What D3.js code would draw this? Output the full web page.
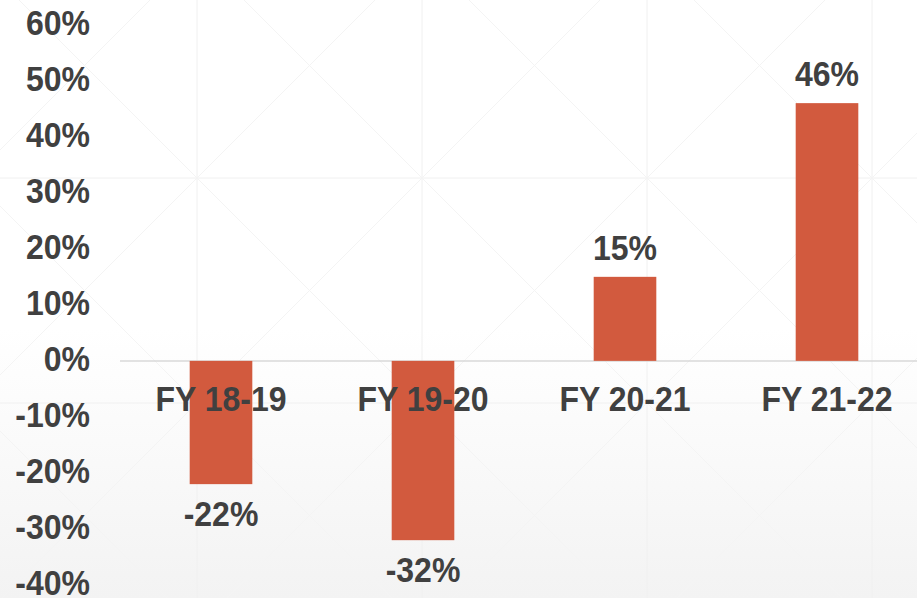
<!DOCTYPE html>
<html>
<head>
<meta charset="utf-8">
<script src="https://cdn.jsdelivr.net/npm/d3@7"></script>
<style>
  body { margin: 0; background: #fff; }
  svg { display: block; }
</style>
</head>
<body>
<script>
// chart data
const years = ["FY 18-19", "FY 19-20", "FY 20-21", "FY 21-22"];
const growth = [-22, -32, 15, 46];
const yTicks = [60, 50, 40, 30, 20, 10, 0, -10, -20, -30, -40];

const width = 917;
const height = 598;

const svg = d3.select("body").append("svg")
    .attr("width", width)
    .attr("height", height)
    .style("font-family", "'Liberation Sans', Arial, sans-serif");

// background: soft gradient + faint tiled pattern
const defs = svg.append("defs");
const grad = defs.append("linearGradient")
    .attr("id", "bg")
    .attr("x1", 0).attr("y1", 0).attr("x2", 0).attr("y2", 1);
grad.append("stop").attr("offset", "0.55").attr("stop-color", "#ffffff");
grad.append("stop").attr("offset", "1").attr("stop-color", "#f3f3f3");

svg.append("rect")
    .attr("width", width)
    .attr("height", height)
    .attr("fill", "url(#bg)");

const deco = svg.append("g")
    .attr("stroke", "#f0f0f0")
    .attr("stroke-width", 1)
    .attr("fill", "none");
const cell = 225, ox = 197, oy = 178;
for (let k = -2; k <= 4; k++) {
    deco.append("line").attr("x1", ox + k * cell).attr("x2", ox + k * cell)
        .attr("y1", 0).attr("y2", height);
    deco.append("line").attr("y1", oy + k * cell).attr("y2", oy + k * cell)
        .attr("x1", 0).attr("x2", width);
}
for (let k = -6; k <= 8; k++) {
    const c1 = (ox - oy) + k * cell;   // x - y = c1
    deco.append("line").attr("x1", c1).attr("y1", 0)
        .attr("x2", c1 + 1200).attr("y2", 1200).attr("stroke", "#f4f4f4");
    const c2 = (ox + oy) + k * cell;   // x + y = c2
    deco.append("line").attr("x1", c2).attr("y1", 0)
        .attr("x2", c2 - 1200).attr("y2", 1200).attr("stroke", "#f4f4f4");
}

// scales
const x = d3.scaleBand()
    .domain(years)
    .range([120, 928])
    .paddingInner(0.69)
    .paddingOuter(0.345);

const y = d3.scaleLinear()
    .domain([-40, 60])
    .range([585, 24.7]);

const textColor = "#404040";
const stretch = "scale(1,1.07)";

// y axis labels
const yAxis = svg.append("g")
    .attr("transform", "translate(100,0)")
    .call(d3.axisLeft(y).tickValues(yTicks).tickFormat(d => d + "%").tickSize(0).tickPadding(10));
yAxis.select(".domain").remove();
yAxis.selectAll("text")
    .attr("transform", stretch)
    .attr("dy", "0.28em")
    .attr("fill", textColor)
    .style("font-size", "32px")
    .style("font-weight", "bold")
    .style("font-family", "'Liberation Sans', Arial, sans-serif");

// zero line
svg.append("line")
    .attr("x1", 120).attr("x2", width)
    .attr("y1", y(0)).attr("y2", y(0))
    .attr("stroke", "#d9d9d9")
    .attr("stroke-width", 1.5);

// bars
svg.selectAll("rect.bar")
    .data(growth)
    .enter()
    .append("rect")
    .attr("class", "bar")
    .attr("x", (d, i) => x(years[i]))
    .attr("width", x.bandwidth())
    .attr("y", d => y(Math.max(0, d)))
    .attr("height", d => Math.abs(y(d) - y(0)))
    .attr("fill", "#d25a3e");

// category labels just below the zero line
svg.selectAll("text.cat")
    .data(years)
    .enter()
    .append("text")
    .attr("class", "cat")
    .attr("transform", d => `translate(${x(d) + x.bandwidth() / 2},${y(0) + 50}) ${stretch}`)
    .attr("text-anchor", "middle")
    .attr("fill", textColor)
    .style("font-size", "32px")
    .style("font-weight", "bold")
    .text(d => d);

// value labels
svg.selectAll("text.val")
    .data(growth)
    .enter()
    .append("text")
    .attr("class", "val")
    .attr("transform", (d, i) => {
        const cx = x(years[i]) + x.bandwidth() / 2;
        const cy = d >= 0 ? y(d) - 17 : y(d) + 42;
        return `translate(${cx},${cy}) ${stretch}`;
    })
    .attr("text-anchor", "middle")
    .attr("fill", textColor)
    .style("font-size", "32px")
    .style("font-weight", "bold")
    .text(d => d + "%");
</script>
</body>
</html>
